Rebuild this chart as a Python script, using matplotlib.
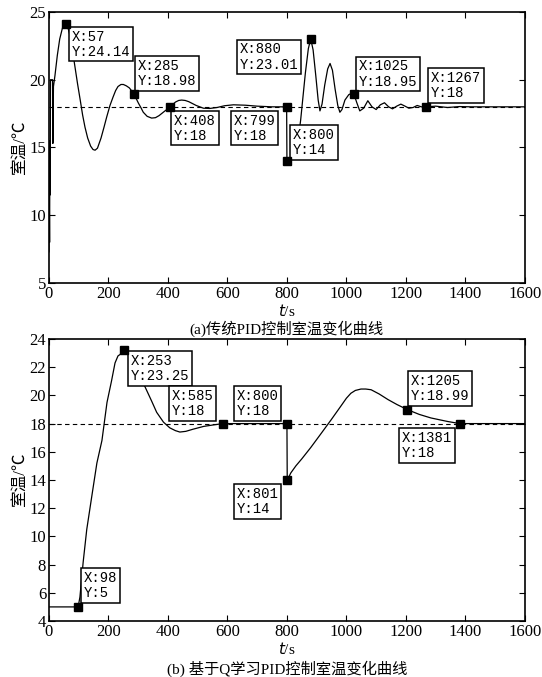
import matplotlib
matplotlib.use('Agg')
import matplotlib.pyplot as plt

plt.rcParams['font.family'] = ['Liberation Serif', 'Noto Sans CJK SC']

# (a) conventional PID
t_a = [0, 1, 2, 3, 4, 5, 12, 13, 15, 20, 28, 36, 45, 52, 57, 63, 70, 78, 87, 96, 105, 113, 121, 130, 140,
       148, 155, 163, 175, 185, 194, 205, 215, 224, 232, 242, 250, 260, 270, 285, 300, 310, 317, 330, 345,
       358, 370, 390, 408, 425, 436, 446, 458, 470, 495, 519, 540, 565, 590, 620, 660, 700, 750, 799, 800,
       830, 846, 862, 872, 880, 888, 897, 905, 911, 918, 927, 937, 945, 953, 962, 971, 978, 985, 995, 1008,
       1018, 1025, 1035, 1045, 1058, 1072, 1086, 1100, 1114, 1128, 1142, 1155, 1169, 1183, 1197, 1210, 1224,
       1238, 1252, 1267, 1300, 1340, 1380, 1420, 1600]
y_a = [7.3, 11.5, 8.0, 15.5, 11.5, 20.0, 20.0, 15.3, 19.5, 20.3, 21.8, 23.0, 23.8, 24.1, 24.14, 23.9, 23.3,
       22.3, 21.0, 19.7, 18.5, 17.4, 16.5, 15.7, 15.1, 14.85, 14.8, 14.95, 15.7, 16.5, 17.25, 18.1, 18.7, 19.2,
       19.5, 19.65, 19.65, 19.55, 19.4, 18.98, 18.3, 17.9, 17.6, 17.3, 17.17, 17.2, 17.35, 17.7, 18.0, 18.35,
       18.47, 18.5, 18.47, 18.38, 18.1, 17.9, 17.88, 17.95, 18.08, 18.15, 18.12, 18.05, 18.0, 18.0, 14.0, 14.3,
       17.0, 20.5, 22.3, 23.01, 22.2, 20.3, 18.5, 17.7, 18.2, 19.6, 20.8, 21.2, 20.7, 19.3, 18.1, 17.6, 17.8,
       18.5, 18.9, 19.0, 18.95, 18.3, 17.7, 17.9, 18.45, 18.0, 17.8, 18.15, 18.3, 18.0, 17.85, 18.05, 18.2,
       18.05, 17.9, 17.95, 18.1, 18.0, 18.0, 18.05, 17.95, 18.02, 18.0, 18.0]
pts_a_x = [57, 285, 408, 799, 800, 880, 1025, 1267]
pts_a_y = [24.14, 18.98, 18, 18, 14, 23.01, 18.95, 18]
lbl_a = ['X:57\nY:24.14', 'X:285\nY:18.98', 'X:408\nY:18', 'X:799\nY:18', 'X:800\nY:14',
         'X:880\nY:23.01', 'X:1025\nY:18.95', 'X:1267\nY:18']
box_a = [(76, 23.7), (299, 21.55), (420, 17.5), (621, 17.5), (820, 16.45), (641, 22.75), (1041, 21.5), (1284, 20.65)]

# (b) Q-learning PID
t_b = [0, 98, 104, 115, 127, 145, 161, 178, 195, 210, 222, 232, 239, 246, 253, 270, 290, 323, 345, 362,
       385, 406, 425, 440, 460, 484, 520, 551, 585, 700, 800, 801, 806, 813, 830, 850, 880, 915, 948, 980,
       1000, 1015, 1030, 1049, 1065, 1083, 1110, 1140, 1170, 1205, 1245, 1284, 1340, 1381, 1450, 1600]
y_b = [5, 5, 5.7, 8.2, 10.5, 13.0, 15.2, 16.8, 19.5, 21.0, 22.3, 22.8, 22.9, 23.1, 23.25, 22.8, 22.0, 20.6,
       19.6, 18.8, 18.1, 17.7, 17.5, 17.4, 17.45, 17.6, 17.8, 17.9, 18, 18, 18, 14, 14.2, 14.5, 15.0, 15.5,
       16.3, 17.3, 18.25, 19.2, 19.8, 20.15, 20.35, 20.45, 20.45, 20.4, 20.1, 19.7, 19.35, 18.99, 18.65, 18.4,
       18.15, 18.0, 18.0, 18.0]
pts_b_x = [98, 253, 585, 800, 801, 1205, 1381]
pts_b_y = [5, 23.25, 18, 18, 14, 18.99, 18]
lbl_b = ['X:98\nY:5', 'X:253\nY:23.25', 'X:585\nY:18', 'X:800\nY:18', 'X:801\nY:14',
         'X:1205\nY:18.99', 'X:1381\nY:18']
box_b = [(117, 7.55), (275, 22.95), (413, 20.45), (631, 20.45), (631, 13.5), (1216, 21.5), (1186, 17.5)]

setpoint = 18

fig = plt.figure(figsize=(5.42, 6.77), dpi=100)
ax1 = fig.add_axes([0.0904, 0.582, 0.878, 0.4003])
ax2 = fig.add_axes([0.0904, 0.0827, 0.878, 0.4166])

def draw(ax, t, y, px, py, labels, boxes, ylim, yticks, caption):
    ax.axhline(setpoint, color='k', ls=(0, (4, 3)), lw=0.8, zorder=1)
    ax.plot(t, y, color='k', lw=0.9, zorder=2)
    ax.plot(px, py, 's', color='k', ms=6, zorder=4)
    for s, (bx, by) in zip(labels, boxes):
        ax.text(bx, by, s, ha='left', va='top', fontsize=10, family=['Liberation Mono'],
                linespacing=1.1, zorder=3,
                bbox=dict(boxstyle='square,pad=0.2', fc='white', ec='k', lw=1.1))
    ax.set_xlim(0, 1600)
    ax.set_ylim(*ylim)
    ax.set_xticks(range(0, 1601, 200))
    ax.set_yticks(yticks)
    ax.tick_params(direction='in', top=True, right=True, length=4, labelsize=12, pad=2)
    for sp in ax.spines.values():
        sp.set_linewidth(1.2)
    ax.set_ylabel('室温/℃', fontsize=12, labelpad=1)
    ax.set_xlabel('$t$/s', fontsize=11, labelpad=1)
    ax.text(0.5, -0.14, caption, transform=ax.transAxes, ha='center', va='top', fontsize=11)

draw(ax1, t_a, y_a, pts_a_x, pts_a_y, lbl_a, box_a, (5, 25), range(5, 26, 5), '(a)传统PID控制室温变化曲线')
draw(ax2, t_b, y_b, pts_b_x, pts_b_y, lbl_b, box_b, (4, 24), range(4, 25, 2), '(b) 基于Q学习PID控制室温变化曲线')

fig.savefig('out.png', dpi=100)
